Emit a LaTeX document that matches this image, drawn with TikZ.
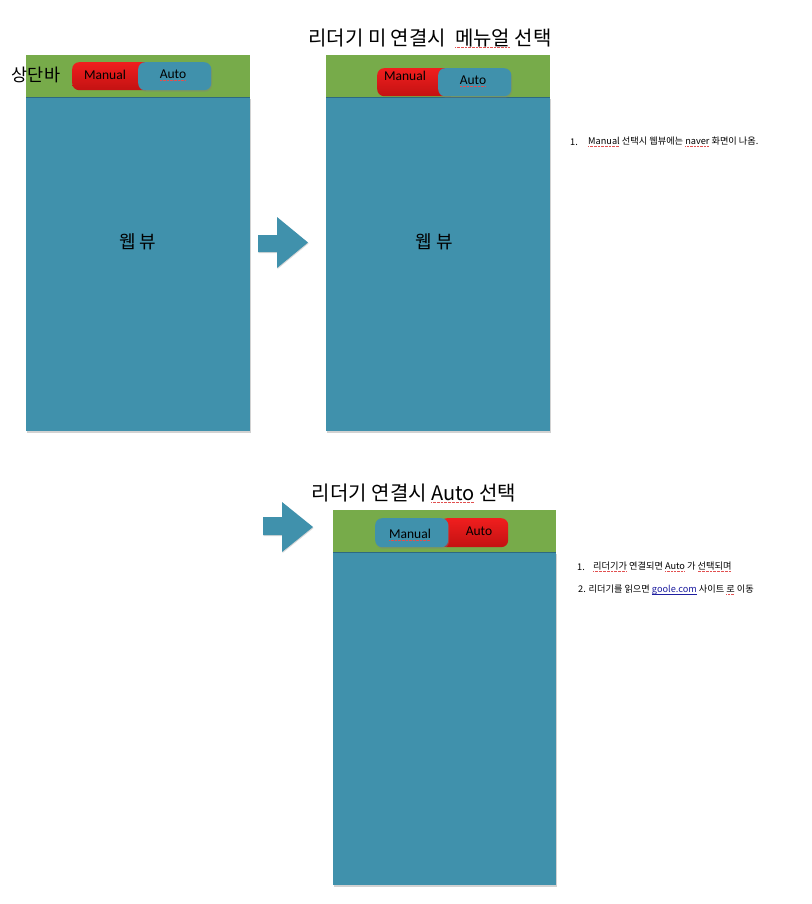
\documentclass[tikz,border=0pt]{standalone}
\usepackage{fontspec}
\setmainfont{Noto Sans CJK KR}
\newfontfamily\lat{Carlito}
\usetikzlibrary{shadows}
\definecolor{webblue}{RGB}{64,145,172}
\definecolor{webline}{RGB}{45,105,130}
\definecolor{barGreen}{RGB}{119,171,74}
\definecolor{tgRedTop}{RGB}{240,30,30}
\definecolor{tgRedBot}{RGB}{195,18,18}
\definecolor{linkblue}{RGB}{30,30,160}
\definecolor{sqred}{RGB}{225,80,80}
\newsavebox\sqbox
\newcommand\sq[1]{\leavevmode\sbox\sqbox{#1}\rlap{\lower1.8pt\hbox to\wd\sqbox{\color{sqred}\xleaders\hbox{\rule{0.45pt}{0.45pt}\kern0.9pt}\hfill}}\usebox\sqbox}
\newcommand\ul[1]{\leavevmode\sbox\sqbox{#1}\rlap{\lower1.6pt\hbox{\rule{\wd\sqbox}{0.5pt}}}\usebox\sqbox}
\tikzset{
  header/.style={fill=barGreen, draw=none, inner sep=0pt, anchor=north west},
  webbody/.style={fill=webblue, draw=none, inner sep=0pt, anchor=north west,
     drop shadow={shadow xshift=0.8pt, shadow yshift=-1.6pt, opacity=0.35}},
  redpill/.style={top color=tgRedTop, bottom color=tgRedBot, draw=none, rounded corners=7pt,
     inner sep=0pt, anchor=north west},
  bluepill/.style={fill=webblue, draw=none, rounded corners=7pt, inner sep=0pt, anchor=north west,
     drop shadow={shadow xshift=0.8pt, shadow yshift=-1.5pt, opacity=0.4}},
  tgtext/.style={font=\lat\fontsize{13.5}{15}\selectfont, text=black, inner sep=0pt},
  title/.style={font=\fontsize{20}{24}\selectfont, inner sep=0pt},
  big/.style={font=\fontsize{18}{22}\selectfont, inner sep=0pt},
  note/.style={font=\fontsize{9.2}{11}\selectfont, inner sep=0pt, anchor=west},
  bigarrow/.style={fill=webblue, draw=none,
     drop shadow={shadow xshift=0.6pt, shadow yshift=-1pt, opacity=0.3}}
}
\begin{document}
\begin{tikzpicture}[x=1pt,y=-1pt]
\useasboundingbox[fill=white] (0,0) rectangle (811,904);

% ---------- panel 1 ----------
\node[webbody, minimum width=224pt, minimum height=334pt] (b1) at (26,97) {};
\node[header, minimum width=224pt, minimum height=42pt] (h1) at (26,55) {};
\draw[webline, line width=1pt] (h1.south west) -- (h1.south east);
\node[redpill, minimum width=80pt, minimum height=28pt] (r1) at (72,62) {};
\node[bluepill, minimum width=73pt, minimum height=28pt] (u1) at (138,62) {};
\node[tgtext] (m1) at (105,75) {Manual};
\node[tgtext] (a1) at (173,75) {\sq{Auto}};
\node[font=\fontsize{17.5}{20}\selectfont, inner sep=0pt] (lab) at (36,75) {상단바};
\node[big] (w1) at (138,242) {웹 뷰};

% ---------- arrow 1 ----------
\fill[bigarrow] (258,235) -- (277,235) -- (277,217) -- (308,242.5) -- (277,268) -- (277,252) -- (258,252) -- cycle;

% ---------- panel 2 ----------
\node[title] (t1) at (430,38) {리더기 미 연결시~~\sq{메뉴얼} 선택};
\node[webbody, minimum width=224pt, minimum height=334pt] (b2) at (326,97) {};
\node[header, minimum width=224pt, minimum height=42pt] (h2) at (326,55) {};
\draw[webline, line width=1pt] (h2.south west) -- (h2.south east);
\node[redpill, minimum width=80pt, minimum height=28pt] (r2) at (377,68) {};
\node[bluepill, minimum width=73pt, minimum height=28pt] (u2) at (438,68) {};
\node[tgtext] (m2) at (405,76) {Manual};
\node[tgtext] (a2) at (473,81) {\sq{Auto}};
\node[big] (w2) at (434,242) {웹 뷰};

\node[note] (n1a) at (570,142) {1.};
\node[note] (n1b) at (588,142) {\sq{Manual} 선택시 웹뷰에는 \sq{naver} 화면이 나옴.};

% ---------- arrow 2 ----------
\fill[bigarrow] (263,517) -- (282,517) -- (282,502) -- (313,527) -- (282,552) -- (282,535) -- (263,535) -- cycle;

% ---------- panel 3 ----------
\node[title] (t2) at (414,493) {리더기 연결시 \sq{Auto} 선택};
\node[webbody, minimum width=223pt, minimum height=333pt] (b3) at (333,552) {};
\node[header, minimum width=223pt, minimum height=42pt] (h3) at (333,510) {};
\draw[webline, line width=1pt] (h3.south west) -- (h3.south east);
\node[redpill, minimum width=68pt, minimum height=29pt] (r3) at (440,518) {};
\node[bluepill, minimum width=73pt, minimum height=29pt] (u3) at (375,518) {};
\node[tgtext] (m3) at (410,535) {\sq{Manual}};
\node[tgtext] (a3) at (479,531) {Auto};

\node[note] (n2a) at (577,567) {1.};
\node[note] (n2b) at (593,567) {\sq{리더기가} 연결되면 \sq{Auto} 가 \sq{선택되며}};
\node[note] (n3) at (578,590) {2. 리더기를 읽으면 \textcolor{linkblue}{\ul{goole.com}} 사이트 \sq{로} 이동};
\end{tikzpicture}
\end{document}
